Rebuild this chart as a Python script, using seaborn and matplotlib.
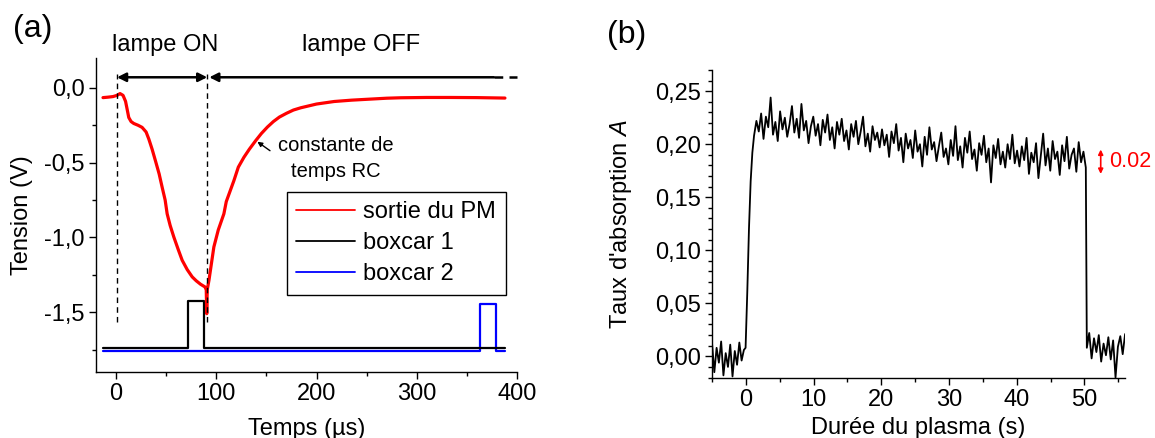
import numpy as np
import pandas as pd
import matplotlib
matplotlib.use("Agg")
import matplotlib.pyplot as plt
from matplotlib.ticker import MultipleLocator, FuncFormatter
import seaborn as sns

# ---------------- panel (a) data : oscilloscope traces ----------------
pm_t = [-13, -8, -3, 1, 4, 7, 9.5, 11, 12.7, 15, 17.7, 22, 26, 30, 32.7, 36, 39.3,
        43, 46, 49, 51, 54, 57.7, 62, 66, 71, 76, 80, 84.3, 88.7, 90, 90.5, 91,
        92.7, 97.6, 102, 107.6, 110, 117.6, 122, 127.6, 133, 139.3, 145, 151, 157,
        163, 170, 177, 184.3, 200, 217.6, 235, 251, 270, 284.3, 310, 334, 360, 388]
pm_v = [-0.065, -0.062, -0.058, -0.05, -0.038, -0.05, -0.09, -0.14, -0.198, -0.225,
        -0.238, -0.25, -0.264, -0.295, -0.342, -0.41, -0.487, -0.575, -0.664, -0.75,
        -0.842, -0.92, -0.998, -1.08, -1.153, -1.215, -1.264, -1.29, -1.313, -1.331,
        -1.35, -1.51, -1.35, -1.287, -1.064, -0.95, -0.842, -0.76, -0.62, -0.53,
        -0.464, -0.41, -0.353, -0.305, -0.262, -0.225, -0.195, -0.17, -0.148, -0.133,
        -0.108, -0.091, -0.082, -0.076, -0.069, -0.066, -0.064, -0.064, -0.065, -0.068]

box1_t = [-13, 72, 72, 88, 88, 388]
box1_v = [-1.74, -1.74, -1.425, -1.425, -1.74, -1.74]
box2_t = [-13, 363, 363, 379, 379, 388]
box2_v = [-1.758, -1.758, -1.447, -1.447, -1.758, -1.758]

# ---------------- panel (b) data : absorption vs plasma time ----------------
a_pre = [0.012, -0.015, 0.008, -0.006, 0.014, -0.018, 0.003, -0.010, 0.011,
         -0.019, 0.005, -0.008, 0.013, -0.004, 0.006]
t_rise = [-0.05, 0.2, 0.45, 0.7, 0.95]
a_rise = [0.008, 0.06, 0.12, 0.165, 0.192]
a_plat = [0.208, 0.222, 0.212, 0.229, 0.205, 0.226, 0.216, 0.244, 0.209, 0.221,
          0.203, 0.231, 0.214, 0.225, 0.207, 0.219, 0.236, 0.211, 0.224, 0.206,
          0.238, 0.213, 0.222, 0.201, 0.217,
          0.226, 0.208, 0.219, 0.199, 0.223, 0.211, 0.228, 0.204, 0.216, 0.196,
          0.221, 0.209, 0.224, 0.203, 0.213, 0.195, 0.219, 0.207, 0.222, 0.200,
          0.212, 0.226, 0.198, 0.210, 0.193, 0.217, 0.204, 0.211, 0.197,
          0.214, 0.199, 0.209, 0.188, 0.212, 0.201, 0.219, 0.194, 0.206, 0.183,
          0.210, 0.196, 0.204, 0.187, 0.213, 0.193, 0.200, 0.179, 0.207, 0.190,
          0.216, 0.195, 0.202, 0.184, 0.198, 0.211, 0.188, 0.196, 0.181,
          0.204, 0.189, 0.217, 0.185, 0.198, 0.178, 0.206, 0.192, 0.212, 0.186,
          0.195, 0.175, 0.201, 0.190, 0.208, 0.183, 0.196, 0.164, 0.199, 0.187,
          0.205, 0.181, 0.193, 0.178, 0.200, 0.186, 0.209, 0.182, 0.194,
          0.179, 0.198, 0.185, 0.206, 0.172, 0.192, 0.183, 0.201, 0.168, 0.189,
          0.210, 0.180, 0.196, 0.175, 0.203, 0.186, 0.193, 0.171, 0.199, 0.184,
          0.207, 0.177, 0.190, 0.196, 0.174, 0.202, 0.183, 0.193, 0.178]
a_post = [0.008, 0.022, -0.002, 0.017, 0.004, 0.020, -0.005, 0.012, 0.001, 0.018,
          -0.003, 0.015, -0.020, 0.009, 0.019, 0.002, 0.021]

t_abs = np.concatenate([np.linspace(-5, -0.3, len(a_pre)), t_rise,
                        np.linspace(1.2, 50.2, len(a_plat)),
                        np.linspace(50.35, 56, len(a_post))])
a_abs = np.concatenate([a_pre, a_rise, a_plat, a_post])

df_pm = pd.DataFrame({"t": pm_t, "v": pm_v})
df_b1 = pd.DataFrame({"t": box1_t, "v": box1_v})
df_b2 = pd.DataFrame({"t": box2_t, "v": box2_v})
df_abs = pd.DataFrame({"t": t_abs, "a": a_abs})

sns.set_style("ticks")
plt.rcParams["font.family"] = ["Liberation Sans", "DejaVu Sans"]
plt.rcParams["mathtext.fontset"] = "custom"
plt.rcParams["mathtext.rm"] = "Liberation Sans"
plt.rcParams["mathtext.it"] = "Liberation Sans:italic"
plt.rcParams["text.color"] = "black"
plt.rcParams["axes.labelcolor"] = "black"
plt.rcParams["xtick.color"] = "black"
plt.rcParams["ytick.color"] = "black"

FS = 17
fig = plt.figure(figsize=(11.55, 4.38), dpi=100)
ax1 = fig.add_axes([0.0831, 0.1507, 0.3645, 0.7169])
ax2 = fig.add_axes([0.6165, 0.1381, 0.3576, 0.7021])


def style_axis(ax):
    for s in ["top", "right"]:
        ax.spines[s].set_visible(False)
    for s in ["left", "bottom"]:
        ax.spines[s].set_linewidth(1.0)
        ax.spines[s].set_color("black")
    ax.tick_params(which="major", direction="out", length=5, width=1.0,
                   labelsize=FS, pad=3, colors="black")
    ax.tick_params(which="minor", direction="out", length=3, width=1.0, colors="black")


# ---- panel (a)
sns.lineplot(data=df_b2, x="t", y="v", ax=ax1, color="#0000ff", lw=1.6,
             sort=False, estimator=None, label="boxcar 2", legend=False)
sns.lineplot(data=df_b1, x="t", y="v", ax=ax1, color="black", lw=1.6,
             sort=False, estimator=None, label="boxcar 1", legend=False)
sns.lineplot(data=df_pm, x="t", y="v", ax=ax1, color="#ff0000", lw=2.3,
             sort=False, estimator=None, label="sortie du PM", legend=False)
ax1.set_xlim(-20, 400)
ax1.set_ylim(-1.9, 0.2)
ax1.xaxis.set_major_locator(MultipleLocator(100))
ax1.xaxis.set_minor_locator(MultipleLocator(50))
ax1.yaxis.set_major_locator(MultipleLocator(0.5))
ax1.yaxis.set_minor_locator(MultipleLocator(0.25))
ax1.yaxis.set_major_formatter(FuncFormatter(
    lambda v, p: ("%.1f" % (0 if abs(v) < 1e-9 else v)).replace(".", ",")))
style_axis(ax1)
ax1.set_xlabel("Temps (µs)", fontsize=FS)
ax1.set_ylabel("Tension (V)", fontsize=FS)
ax1.xaxis.set_label_coords(0.5, -0.145)
ax1.yaxis.set_label_coords(-0.15, 0.5)

for xv in [1, 91]:
    ax1.plot([xv, xv], [-1.565, 0.092], color="black", lw=1, ls=(0, (4, 3)))
ax1.annotate("", xy=(1, 0.071), xytext=(91, 0.071), annotation_clip=False,
             arrowprops=dict(arrowstyle="<|-|>", mutation_scale=13, lw=1.8,
                             color="black", shrinkA=0, shrinkB=0))
ax1.annotate("", xy=(93, 0.071), xytext=(377, 0.071), annotation_clip=False,
             arrowprops=dict(arrowstyle="-|>", mutation_scale=13, lw=1.8,
                             color="black", shrinkA=0, shrinkB=0))
ax1.plot([377, 400], [0.071, 0.071], color="black", lw=1.8, ls=(0, (3.5, 2.5)),
         clip_on=False)
ax1.text(49, 0.245, "lampe ON", fontsize=FS, ha="center", va="baseline")
ax1.text(244, 0.245, "lampe OFF", fontsize=FS, ha="center", va="baseline")
ax1.annotate("", xy=(141, -0.36), xytext=(153.6, -0.42),
             arrowprops=dict(arrowstyle="-|>", mutation_scale=7, lw=1,
                             color="black", shrinkA=0, shrinkB=0))
ax1.text(219.6, -0.425, "constante de", fontsize=14.5, ha="center", va="baseline")
ax1.text(219.6, -0.598, "temps RC", fontsize=14.5, ha="center", va="baseline")

h, l = ax1.get_legend_handles_labels()
order = [l.index("sortie du PM"), l.index("boxcar 1"), l.index("boxcar 2")]
leg = ax1.legend([h[i] for i in order], [l[i] for i in order], loc="upper right",
                 bbox_to_anchor=(0.973, 0.574), fontsize=FS, frameon=True,
                 fancybox=False, edgecolor="black", framealpha=1,
                 handlelength=2.5, handletextpad=0.35, labelspacing=0.38,
                 borderpad=0.4, borderaxespad=0)
leg.get_frame().set_linewidth(1.0)
for line in leg.get_lines():
    line.set_linewidth(1.3)

# ---- panel (b)
sns.lineplot(data=df_abs, x="t", y="a", ax=ax2, color="black", lw=1.3,
             sort=False, estimator=None)
ax2.set_xlim(-5, 56)
ax2.set_ylim(-0.02, 0.27)
ax2.xaxis.set_major_locator(MultipleLocator(10))
ax2.xaxis.set_minor_locator(MultipleLocator(5))
ax2.yaxis.set_major_locator(MultipleLocator(0.05))
ax2.yaxis.set_minor_locator(MultipleLocator(0.01))
ax2.yaxis.set_major_formatter(FuncFormatter(
    lambda v, p: ("%.2f" % (0 if abs(v) < 1e-9 else v)).replace(".", ",")))
style_axis(ax2)
ax2.set_xlabel("Durée du plasma (s)", fontsize=FS)
ax2.set_ylabel("Taux d'absorption $A$", fontsize=FS)
ax2.xaxis.set_label_coords(0.5, -0.13)
ax2.yaxis.set_label_coords(-0.19, 0.5)

ax2.annotate("", xy=(52.4, 0.195), xytext=(52.4, 0.172), annotation_clip=False,
             arrowprops=dict(arrowstyle="<|-|>", mutation_scale=7, lw=1.2,
                             color="#ff0000", shrinkA=0, shrinkB=0))
ax2.text(53.6, 0.1835, "0.02", fontsize=15.5, color="#ff0000", ha="left",
         va="center", clip_on=False)

fig.text(33 / 1155, 1 - 29 / 438, "(a)", fontsize=23, ha="center", va="center")
fig.text(627 / 1155, 1 - 35 / 438, "(b)", fontsize=23, ha="center", va="center")

fig.savefig("out.png", dpi=100)
